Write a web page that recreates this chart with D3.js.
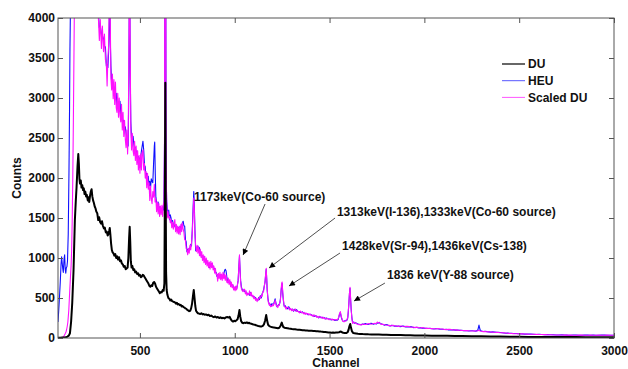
<!DOCTYPE html>
<html><head><meta charset="utf-8">
<script src="https://cdn.jsdelivr.net/npm/d3@7"></script>
<style>
html,body{margin:0;padding:0;background:#fff;}
svg{display:block;font-family:"Liberation Sans",Arial,Helvetica,sans-serif;}
</style></head><body>
<svg id="chart" width="628" height="369"></svg>
<script>
// ---------------- DATA ----------------
const xTicks = [500, 1000, 1500, 2000, 2500, 3000];
const yTicks = [0, 500, 1000, 1500, 2000, 2500, 3000, 3500, 4000];
const xLabel = "Channel";
const yLabel = "Counts";
const seriesNames = ["DU", "HEU", "Scaled DU"];
const seriesColors = ["#000000", "#1010ff", "#ff10ff"];

// [channel, counts]
const duPoints = [
[68,3],[80,4],[90,5],[100,6],[110,9],[118,18],[125,30],[131,60],[137,200],[143,435],[150,850],[157,1475],[162,1720],[166,1890],[171,2150],[175,2300],[178,2180],[181,1990],[184,1930],[188,1970],[192,1880],[196,1910],[200,1850],[204,1870],[208,1800],[212,1830],[216,1770],[220,1790],[225,1720],[229,1760],[233,1700],[237,1780],[241,1830],[245,1860],[249,1770],[253,1720],[257,1690],[262,1640],[266,1620],[270,1580],[275,1560],[280,1475],[285,1510],[290,1450],[295,1430],[300,1460],[305,1400],[310,1370],[315,1380],[320,1320],[325,1330],[330,1280],[334,1300],[338,1340],[341,1375],[344,1300],[348,1180],[352,1100],[356,1070],[360,1060],[365,1030],[370,1050],[375,1000],[380,1020],[385,980],[390,1010],[395,960],[400,970],[405,930],[410,920],[415,890],[420,900],[425,860],[430,870],[435,880],[439,1000],[443,1250],[446,1390],[449,1200],[452,960],[456,880],[460,900],[465,850],[470,860],[475,820],[480,830],[485,800],[490,810],[495,780],[500,790],[505,760],[510,770],[515,790],[520,780],[525,760],[530,740],[535,720],[540,700],[545,680],[550,650],[555,640],[560,660],[565,650],[570,690],[575,700],[580,680],[585,640],[590,620],[595,600],[600,580],[605,560],[610,575],[615,570],[620,600],[625,590],[629,680],[632,2000],[634,3190],[636,1860],[638,820],[641,600],[645,540],[650,500],[655,490],[660,470],[665,480],[670,460],[675,455],[680,450],[685,445],[690,430],[695,440],[700,420],[705,425],[710,410],[715,415],[720,395],[725,400],[730,385],[735,380],[740,370],[745,365],[750,350],[755,345],[760,335],[765,340],[770,370],[775,430],[780,530],[784,600],[788,500],[792,400],[796,340],[800,325],[806,310],[812,305],[818,300],[824,310],[830,295],[836,300],[842,290],[848,295],[855,285],[862,290],[869,275],[876,280],[883,268],[890,260],[897,270],[904,255],[911,262],[918,250],[925,258],[932,248],[939,252],[946,245],[953,258],[960,262],[967,255],[973,265],[979,235],[985,215],[991,205],[997,215],[1003,210],[1009,222],[1015,235],[1020,280],[1025,350],[1029,270],[1034,210],[1040,190],[1046,185],[1052,192],[1058,188],[1064,195],[1070,185],[1076,190],[1082,180],[1088,178],[1094,172],[1100,168],[1106,165],[1112,160],[1118,155],[1124,150],[1130,148],[1136,145],[1142,145],[1148,152],[1154,170],[1160,215],[1166,287],[1171,215],[1176,165],[1182,150],[1188,142],[1194,138],[1200,135],[1207,130],[1214,128],[1221,125],[1228,122],[1235,128],[1241,150],[1245,175],[1248,192],[1252,160],[1257,135],[1263,128],[1270,125],[1278,122],[1286,118],[1294,115],[1302,112],[1310,110],[1318,108],[1326,105],[1334,103],[1342,102],[1350,100],[1358,98],[1366,97],[1374,95],[1382,94],[1390,92],[1398,91],[1406,90],[1414,88],[1422,87],[1430,85],[1438,84],[1446,82],[1454,80],[1462,79],[1470,76],[1478,74],[1486,72],[1494,70],[1502,69],[1510,67],[1518,68],[1526,66],[1534,68],[1542,70],[1550,72],[1556,78],[1560,80],[1565,72],[1572,66],[1580,63],[1588,62],[1595,72],[1600,100],[1605,150],[1609,175],[1613,130],[1618,85],[1624,65],[1631,58],[1640,56],[1650,53],[1660,51],[1675,49],[1690,48],[1705,46],[1720,45],[1740,44],[1760,43],[1780,41],[1800,40],[1825,38],[1850,37],[1875,36],[1900,34],[1925,33],[1950,32],[1975,31],[2000,30],[2040,29],[2080,28],[2120,27],[2160,26],[2200,25],[2250,23],[2300,22],[2350,20],[2400,18],[2450,17],[2500,15],[2550,14],[2600,13],[2650,12],[2700,12],[2750,11],[2800,11],[2850,10],[2900,10],[2950,9],[3000,9]
];

const heuPoints = [
[68,200],[72,350],[76,520],[80,700],[84,920],[87,1016],[90,940],[93,870],[96,820],[100,990],[103,1040],[106,860],[109,810],[112,880],[115,890],[118,960],[122,1300],[126,2100],[129,2900],[131,3600],[134,4200],[140,5200],[150,6500],[160,8000],[175,9500],[190,8800],[210,8000],[230,7000],[245,7200],[260,5500],[272,4600],[280,4100],
[286,3880],[291,3900],[297,3800],[302,3780],[308,3740],[313,3640],[318,3640],[323,3400],[327,3420],[331,3380],[335,3580],[338,3900],[341,4400],[344,3700],[347,3400],[351,3180],[355,3220],[359,3180],[363,3100],[367,3120],[371,3020],[375,3060],[379,2900],[383,2950],[387,2920],[391,2860],[395,2960],[399,2800],[403,2820],[407,2760],[411,2680],[415,2720],[419,2600],[423,2640],[427,2560],[431,2480],[435,2500],[438,2400],[441,3000],[444,4200],[446,4500],[449,3300],[452,2700],[456,2480],[460,2440],[464,2520],[468,2420],[472,2360],[476,2380],[480,2300],[484,2340],[488,2230],[492,2270],[496,2200],[500,2250],[504,2260],[508,2340],[512,2400],[516,2460],[520,2350],[524,2160],[528,2140],[532,2000],[536,2060],[540,1960],[544,2020],[548,1900],[552,1960],[556,1880],[560,1990],[564,1960],[568,1940],[572,2180],[576,2400],[578,2450],[581,2050],[584,1760],[588,1700],[592,1640],[596,1700],[600,1600],[604,1640],[608,1580],[612,1620],[616,1580],[620,1640],[624,1600],[627,1720],[630,2500],[632,5800],[634,9000],[636,4800],[638,2100],[641,1720],[644,1620],[648,1520],[652,1600],[656,1480],[660,1540],[664,1500],[668,1440],[672,1470],[676,1420],[680,1390],[684,1420],[688,1400],[692,1380],[696,1390],[700,1340],[704,1380],[708,1360],[712,1400],[716,1350],[720,1410],[724,1440],[728,1460],[732,1400],[736,1400],[740,1230],[744,1200],[748,1080],[752,1110],[756,1080],[760,1120],[764,1120],[768,1170],[772,1150],[776,1350],[780,1600],[784,1830],[787,1650],[790,1350],[794,1090],[798,1100],[802,1110],[806,1150],[810,1100],[814,1130],[818,1040],[822,1040],[826,1010],[830,1030],[834,980],[838,1020],[842,970],[846,980],[850,940],[854,960],[858,920],[862,930],[866,880],[870,900],[874,900],[878,930],[882,890],[886,900],[890,860],[894,870],[898,820],[902,820],[906,770],[910,790],[914,760],[918,780],[922,760],[926,790],[930,750],[934,780],[938,770],[942,800],[946,840],[950,860],[954,840],[958,770],[962,710],[966,720],[970,690],[974,710],[978,670],[982,680],[986,650],[990,660],[994,615],[998,625],[1002,610],[1006,640],[1010,615],[1014,660],[1018,720],[1021,860],[1025,1020],[1028,860],[1031,720],[1035,640],[1040,600],[1044,590],[1048,600],
[1052,580],[1056,585],[1060,560],[1064,565],[1069,545],[1074,555],[1078,535],[1083,570],[1087,540],[1092,530],[1096,515],[1101,520],[1105,505],[1110,505],[1114,480],[1118,480],[1122,470],[1126,505],[1130,480],[1135,530],[1140,500],[1144,550],[1148,570],[1152,600],[1155,640],[1160,700],[1163,790],[1166,860],[1169,720],[1171,600],[1175,500],[1178,450],[1182,430],[1185,410],[1189,420],[1192,400],[1196,430],[1200,420],[1204,410],[1207,440],[1210,460],[1213,490],[1216,450],[1219,420],[1223,390],[1227,400],[1231,420],[1234,410],[1238,440],[1241,490],[1245,600],[1248,660],[1250,680],[1253,560],[1256,480],[1259,420],[1262,390],[1266,405],[1271,375],[1275,380],[1280,362],[1285,392],[1290,365],[1295,362],[1300,352],[1305,360],[1310,335],[1315,360],[1320,340],[1326,355],[1332,335],[1337,330],[1342,328],[1347,318],[1352,315],[1357,328],[1362,312],[1367,305],[1372,310],[1377,305],[1382,305],[1387,290],[1392,295],[1397,295],[1403,292],[1408,278],[1413,285],[1418,270],[1423,275],[1428,278],[1433,268],[1438,265],[1443,252],[1448,270],[1453,255],[1458,252],[1463,258],[1468,255],[1473,252],[1478,238],[1483,250],[1488,245],[1493,238],[1498,238],[1503,238],[1508,225],[1513,232],[1518,232],[1523,232],[1528,218],[1534,224],[1540,222],[1545,230],[1549,260],[1552,290],[1557,320],[1560,280],[1563,250],[1567,225],[1570,215],[1574,205],[1578,210],[1583,220],[1588,215],[1592,225],[1596,250],[1599,330],[1602,430],[1605,560],[1608,620],[1611,480],[1614,360],[1618,250],[1622,190],[1627,200],[1632,185],[1638,190],[1644,180],[1650,175],[1656,170],[1661,168],[1666,165],[1673,175],[1680,170],[1688,180],[1695,175],[1702,168],[1710,175],[1718,185],[1725,180],[1732,172],[1740,180],[1746,175],[1752,190],[1757,185],[1762,195],[1768,180],[1775,175],[1782,168],[1790,160],[1797,168],[1805,165],[1812,155],[1820,150],[1827,158],[1835,155],[1842,148],[1850,150],[1857,145],[1865,150],[1872,142],[1880,145],[1887,148],[1895,145],[1902,138],[1910,140],[1920,138],[1928,142],[1935,138],[1942,130],[1950,132],[1958,135],[1965,130],[1972,125],[1980,128],[1988,122],[1995,125],[2002,120],[2010,122],[2020,118],[2030,120],[2040,115],[2050,112],[2060,116],[2070,115],[2082,110],[2095,110],[2105,106],[2115,108],[2125,102],[2135,104],[2145,100],[2155,102],[2165,98],[2175,100],[2185,95],[2195,96],[2205,92],[2215,94],[2225,90],[2235,88],[2245,91],[2255,90],[2263,87],[2271,86],[2278,92],[2282,100],[2285,130],[2288,162],[2291,130],[2294,100],[2300,88],[2310,82],[2320,84],[2330,80],[2340,77],[2350,74],[2360,76],[2370,74],[2380,71],[2390,70],[2400,68],[2410,66],[2420,63],[2430,60],[2440,62],[2446,60],[2458,58],[2470,56],[2485,57],[2500,54],[2515,52],[2530,48],[2545,50],[2560,48],[2575,46],[2590,44],[2605,46],[2620,44],[2635,41],[2650,42],[2665,40],[2680,40],[2695,38],[2709,38],[2725,39],[2740,38],[2755,36],[2770,35],[2785,37],[2800,37],[2815,35],[2830,35],[2845,37],[2860,36],[2875,34],[2890,36],[2905,35],[2920,34],[2935,36],[2950,36],[2965,34],[2980,35],[3000,35]
];

const scaledDuPoints = [
[68,0],[80,2],[90,5],[95,15],[100,28],[105,50],[110,75],[113,100],[117,150],[120,200],[125,350],[130,600],[134,780],[137,900],[140,1100],[143,1475],[146,2000],[149,2700],[152,3500],[155,4300],[160,5200],[166,6300],[171,7100],[175,7600],[181,6600],[190,6300],[200,6100],[212,5900],[225,5600],[237,5800],[245,6100],[253,5600],[262,5300],[270,4900],[276,4400],
[280,4050],[286,3720],[291,3980],[297,3620],[302,3900],[308,3580],[313,3800],[318,3480],[323,3420],[327,3150],[331,3500],[335,3650],[338,4200],[341,4700],[344,3900],[347,3250],[351,3100],[355,3300],[359,2990],[363,3230],[367,2920],[371,3200],[375,2880],[379,2820],[383,3060],[387,2760],[391,3000],[395,2780],[399,2700],[403,2920],[407,2600],[411,2820],[415,2520],[419,2720],[423,2480],[427,2380],[431,2600],[435,2300],[438,2500],[441,3300],[444,4400],[446,4700],[449,3500],[452,2600],[456,2350],[460,2560],[464,2340],[468,2280],[472,2460],[476,2220],[480,2400],[484,2170],[488,2340],[492,2100],[496,2280],[500,2060],[504,2300],[508,2100],[512,2320],[516,2350],[520,2100],[524,2180],[528,2000],[532,2080],[536,1880],[540,2060],[544,1860],[548,1940],[552,1720],[556,1900],[560,1740],[564,1680],[568,1830],[572,1760],[576,1920],[580,1700],[584,1740],[588,1580],[592,1700],[596,1550],[600,1680],[604,1520],[608,1650],[612,1540],[616,1660],[620,1520],[624,1680],[627,1700],[630,2600],[632,6000],[634,9000],[636,5000],[638,2200],[641,1700],[644,1500],[648,1580],[652,1500],[656,1520],[660,1440],[664,1480],[668,1380],[672,1450],[676,1360],[680,1420],[684,1480],[688,1330],[692,1420],[696,1310],[700,1400],[704,1300],[708,1390],[712,1290],[716,1420],[720,1330],[724,1440],[728,1360],[732,1320],[736,1230],[740,1220],[744,1120],[748,1100],[752,1040],[756,1120],[760,1060],[764,1160],[768,1100],[772,1190],[776,1300],[780,1550],[784,1750],[787,1600],[790,1300],[794,1160],[798,1080],[802,1160],[806,1060],[810,1140],[814,1030],[818,1110],[822,1010],[826,1080],[830,970],[834,1040],[838,940],[842,1020],[846,920],[850,1000],[854,900],[858,970],[862,880],[866,950],[870,860],[874,960],[878,880],[882,940],[886,850],[890,900],[894,810],[898,870],[902,790],[906,800],[910,710],[914,810],[918,740],[922,820],[926,730],[930,800],[934,720],[938,820],[942,740],[946,800],[950,720],[954,790],[958,700],[962,690],[966,750],[970,670],[974,730],[978,640],[982,700],[986,630],[990,670],[994,600],[998,640],[1002,590],[1006,650],[1010,600],[1014,660],[1018,720],[1021,860],[1025,1040],[1028,850],[1031,700],[1035,620],[1040,590],[1044,580],[1048,610],
[1052,610],[1056,550],[1060,590],[1064,530],[1069,560],[1074,540],[1078,590],[1083,530],[1087,570],[1092,515],[1096,535],[1101,490],[1105,515],[1110,470],[1114,495],[1118,455],[1122,490],[1126,475],[1130,515],[1135,495],[1140,535],[1144,520],[1148,575],[1152,580],[1155,630],[1160,720],[1163,800],[1166,870],[1169,720],[1171,620],[1175,480],[1178,440],[1182,410],[1185,430],[1189,390],[1192,400],[1196,395],[1200,420],[1204,405],[1207,430],[1210,440],[1213,475],[1216,440],[1219,400],[1223,405],[1227,380],[1231,415],[1234,410],[1238,445],[1241,470],[1245,620],[1248,690],[1250,700],[1253,580],[1256,500],[1259,430],[1262,395],[1266,390],[1271,360],[1275,390],[1280,380],[1285,375],[1290,350],[1295,370],[1300,340],[1305,362],[1310,338],[1315,348],[1320,362],[1326,332],[1332,338],[1337,325],[1342,315],[1347,338],[1352,318],[1357,322],[1362,302],[1367,320],[1372,295],[1377,312],[1382,300],[1387,305],[1392,288],[1397,298],[1403,282],[1408,288],[1413,268],[1418,290],[1423,275],[1428,276],[1433,258],[1438,272],[1443,255],[1448,268],[1453,258],[1458,262],[1463,245],[1468,258],[1473,240],[1478,248],[1483,235],[1488,245],[1493,240],[1498,228],[1503,236],[1508,230],[1513,240],[1518,222],[1523,230],[1528,224],[1534,230],[1540,226],[1545,240],[1549,270],[1552,300],[1557,330],[1560,290],[1563,260],[1567,230],[1570,210],[1574,208],[1578,204],[1583,212],[1588,220],[1592,230],[1596,260],[1599,340],[1602,450],[1605,560],[1608,633],[1611,500],[1614,350],[1618,240],[1622,183],[1627,192],[1632,195],[1638,185],[1644,175],[1650,172],[1656,165],[1661,170],[1666,162],[1673,170],[1680,175],[1688,168],[1695,170],[1702,178],[1710,180],[1718,172],[1725,175],[1732,182],[1740,185],[1746,178],[1752,200],[1757,190],[1762,192],[1768,178],[1775,170],[1782,172],[1790,165],[1797,162],[1805,160],[1812,158],[1820,155],[1827,152],[1835,160],[1842,152],[1850,150],[1857,148],[1865,145],[1872,150],[1880,150],[1887,143],[1895,140],[1902,145],[1910,145],[1920,142],[1928,138],[1935,135],[1942,137],[1950,130],[1958,133],[1965,135],[1972,128],[1980,125],[1988,130],[1995,128],[2002,122],[2010,120],[2020,122],[2030,118],[2040,117],[2050,115],[2060,113],[2070,118],[2082,114],[2095,112],[2105,108],[2115,105],[2125,109],[2135,108],[2145,102],[2155,100],[2165,101],[2175,98],[2185,97],[2195,95],[2205,94],[2215,92],[2225,93],[2235,90],[2245,88],[2255,88],[2263,89],[2271,87],[2278,88],[2282,90],[2285,94],[2288,95],[2291,92],[2294,88],[2300,85],[2310,80],[2320,82],[2330,78],[2340,76],[2350,75],[2360,73],[2370,72],[2380,70],[2390,68],[2400,66],[2410,65],[2420,64],[2430,62],[2440,60],[2446,58],[2458,57],[2470,55],[2485,54],[2500,52],[2515,51],[2530,50],[2545,48],[2560,47],[2575,46],[2590,45],[2605,44],[2620,43],[2635,42],[2650,40],[2665,41],[2680,38],[2695,38],[2709,37],[2725,37],[2740,36],[2755,37],[2770,36],[2785,35],[2800,35],[2815,36],[2830,37],[2845,35],[2860,35],[2875,36],[2890,34],[2905,34],[2920,36],[2935,35],[2950,35],[2965,36],[2980,34],[3000,35]
];

// annotations in data coordinates [channel, counts]
const annotationTexts = [
  "1173keV(Co-60 source)",
  "1313keV(I-136),1333keV(Co-60 source)",
  "1428keV(Sr-94),1436keV(Cs-138)",
  "1836 keV(Y-88 source)"
];
const annotationAnchors = [[785, 1712], [1539, 1525], [1566, 1100], [1803, 737]];
const arrowStarts = [[1160, 1675], [1529, 1500], [1555, 1062], [1792, 687]];
const arrowEnds   = [[1044, 1037], [1181, 875], [1286, 650], [1629, 462]];

// ---------------- CHART ----------------
const W = 628, H = 369;
const plot = {left: 58, right: 614, top: 18, bottom: 338};
const svg = d3.select("#chart");

const x = d3.scaleLinear().domain([68, 3000]).range([plot.left, plot.right]);
const y = d3.scaleLinear().domain([0, 4000]).range([plot.bottom, plot.top]);

svg.append("rect").attr("width", W).attr("height", H).attr("fill", "#ffffff");

const defs = svg.append("defs");
defs.append("clipPath").attr("id", "plotClip")
  .append("rect")
  .attr("x", plot.left).attr("y", plot.top)
  .attr("width", plot.right - plot.left).attr("height", plot.bottom - plot.top);

defs.append("marker")
  .attr("id", "arrowHead")
  .attr("viewBox", "0 0 10 10")
  .attr("refX", 10).attr("refY", 5)
  .attr("markerWidth", 8).attr("markerHeight", 6)
  .attr("markerUnits", "userSpaceOnUse")
  .attr("orient", "auto")
  .append("path").attr("d", "M0,0 L10,5 L0,10 Z").attr("fill", "#000");

const line = d3.line().x(d => x(d[0])).y(d => y(d[1]));

const linesG = svg.append("g").attr("clip-path", "url(#plotClip)");
const drawOrder = [
  {data: heuPoints, color: seriesColors[1], w: 1.1},
  {data: scaledDuPoints, color: seriesColors[2], w: 1.1},
  {data: duPoints, color: seriesColors[0], w: 2.0}
];
drawOrder.forEach(s => {
  linesG.append("path").datum(s.data)
    .attr("d", line)
    .attr("fill", "none")
    .attr("stroke", s.color)
    .attr("stroke-width", s.w)
    .attr("stroke-linejoin", "round");
});

// axes
const axisColor = "#555";
const fontSize = 12;
const fmt = d3.format("d");
const gB = svg.append("g").attr("transform", `translate(0,${plot.bottom})`)
  .call(d3.axisBottom(x).tickValues(xTicks).tickFormat(fmt).tickSizeInner(-5).tickSizeOuter(0).tickPadding(8));
const gL = svg.append("g").attr("transform", `translate(${plot.left},0)`)
  .call(d3.axisLeft(y).tickValues(yTicks).tickFormat(fmt).tickSizeInner(-5).tickSizeOuter(0).tickPadding(3));
const gT = svg.append("g").attr("transform", `translate(0,${plot.top})`)
  .call(d3.axisTop(x).tickValues(xTicks).tickSizeInner(-5).tickSizeOuter(0).tickFormat(""));
const gR = svg.append("g").attr("transform", `translate(${plot.right},0)`)
  .call(d3.axisRight(y).tickValues(yTicks).tickSizeInner(-5).tickSizeOuter(0).tickFormat(""));

[gB, gL, gT, gR].forEach(g => {
  g.select(".domain").remove();
  g.selectAll(".tick line").attr("stroke", axisColor);
  g.selectAll(".tick text")
    .attr("fill", "#111")
    .attr("font-size", fontSize)
    .attr("font-weight", "bold")
    .attr("font-family", "'Liberation Sans', Arial, sans-serif");
});

svg.append("rect")
  .attr("x", plot.left).attr("y", plot.top)
  .attr("width", plot.right - plot.left).attr("height", plot.bottom - plot.top)
  .attr("fill", "none").attr("stroke", axisColor).attr("stroke-width", 1);

// axis titles
svg.append("text")
  .attr("x", (plot.left + plot.right) / 2).attr("y", 367)
  .attr("text-anchor", "middle")
  .attr("font-size", fontSize).attr("font-weight", "bold").attr("fill", "#111")
  .text(xLabel);
svg.append("text")
  .attr("transform", `translate(21,${(plot.top + plot.bottom) / 2}) rotate(-90)`)
  .attr("text-anchor", "middle")
  .attr("font-size", fontSize).attr("font-weight", "bold").attr("fill", "#111")
  .text(yLabel);

// legend
const legend = svg.append("g").attr("transform", "translate(502,64)");
seriesNames.forEach((name, i) => {
  const row = legend.append("g").attr("transform", `translate(0,${i * 16.7})`);
  row.append("line").attr("x1", 0).attr("x2", 23).attr("y1", 0).attr("y2", 0)
    .attr("stroke", seriesColors[i]).attr("stroke-width", i === 0 ? 1.2 : 1)
    .attr("opacity", i === 0 ? 1 : 0.7);
  row.append("text").attr("x", 26).attr("y", 4.3)
    .attr("font-size", fontSize).attr("font-weight", "bold").attr("fill", "#111")
    .text(name);
});

// annotations
const annG = svg.append("g");
annotationTexts.forEach((t, i) => {
  annG.append("text")
    .attr("x", x(annotationAnchors[i][0])).attr("y", y(annotationAnchors[i][1]))
    .attr("font-size", fontSize).attr("font-weight", "bold").attr("fill", "#111")
    .text(t);
  annG.append("line")
    .attr("x1", x(arrowStarts[i][0])).attr("y1", y(arrowStarts[i][1]))
    .attr("x2", x(arrowEnds[i][0])).attr("y2", y(arrowEnds[i][1]))
    .attr("stroke", "#222").attr("stroke-width", 0.8)
    .attr("marker-end", "url(#arrowHead)");
});
</script>
</body></html>
